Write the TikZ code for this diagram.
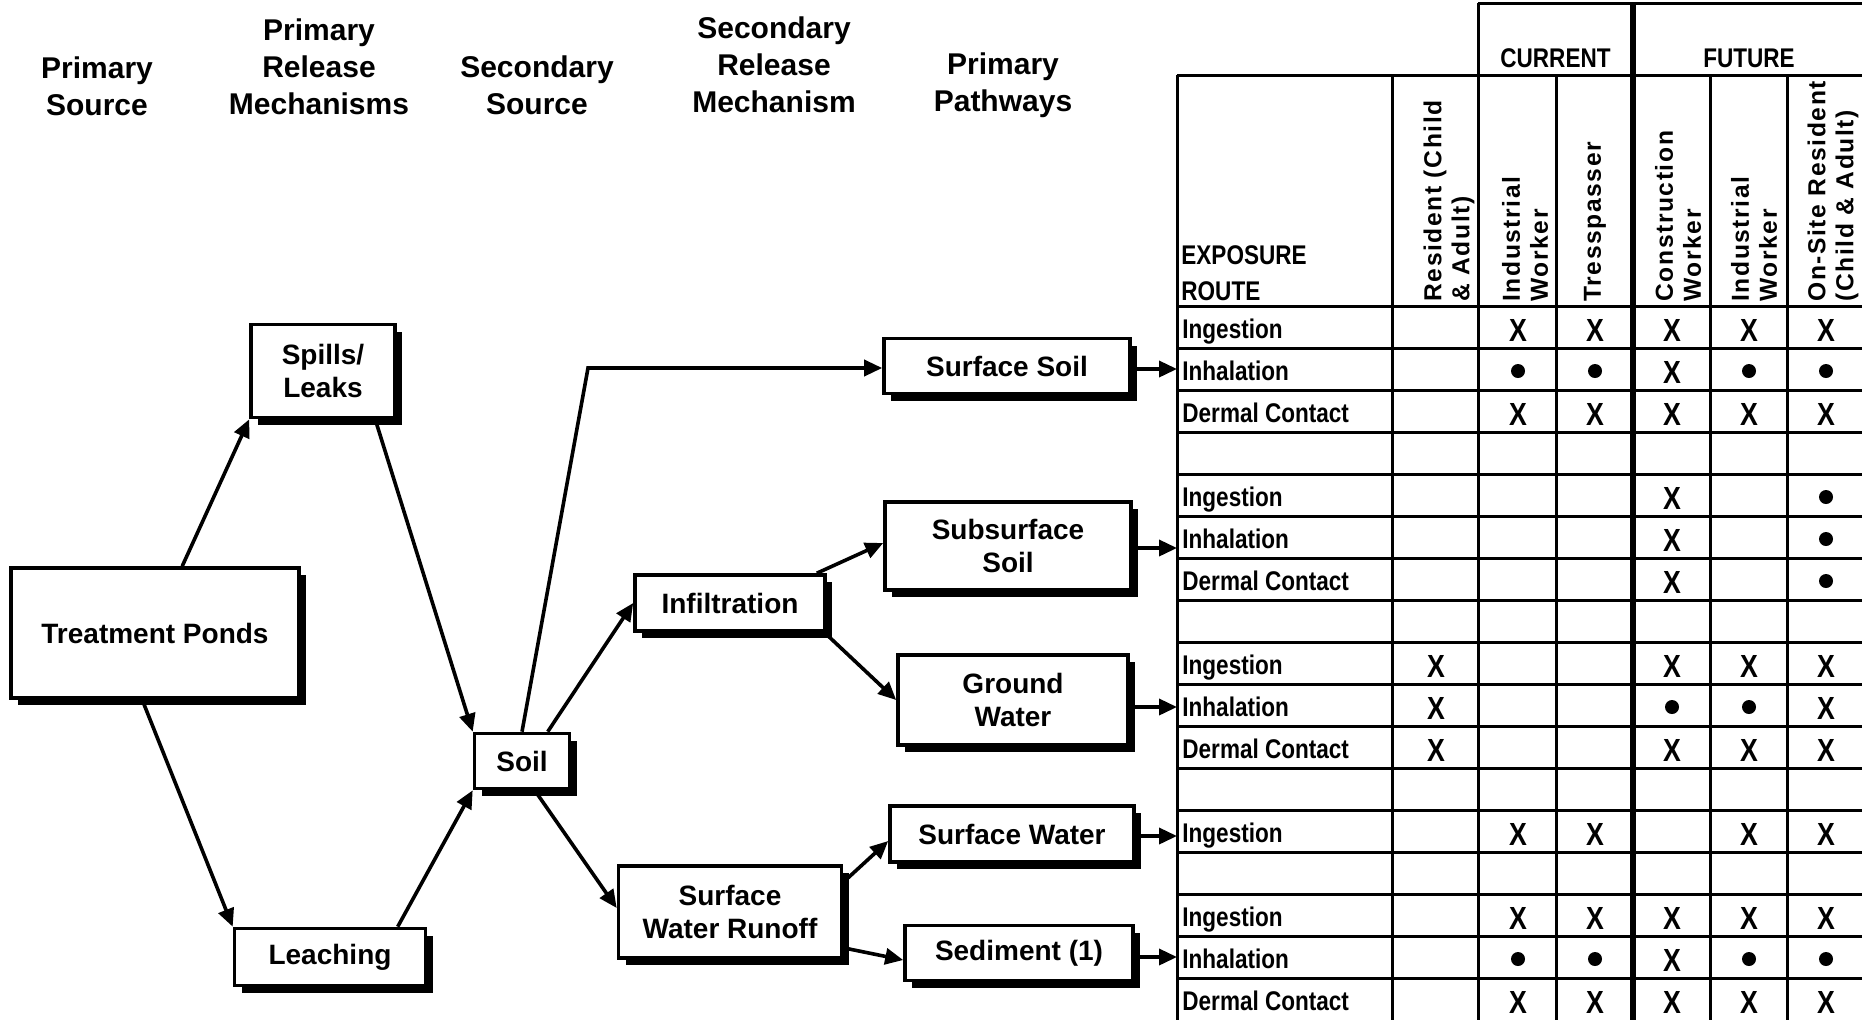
\documentclass[tikz,border=0pt]{standalone}
\usepackage{fontspec}
\setmainfont{Liberation Sans}
\newfontfamily\tabfont{Liberation Sans}[FakeStretch=0.835]
\newfontfamily\rotfont{Liberation Sans}[LetterSpace=6.5]
\usetikzlibrary{arrows.meta,shadows,calc}
\pgfdeclarelayer{bg}
\pgfsetlayers{bg,main}
\tikzset{
  box/.style={draw, line width=1.8pt, fill=white, align=center, inner sep=0pt,
    font=\fontsize{14}{16.5}\selectfont\bfseries,
    drop shadow={shadow xshift=3.5pt, shadow yshift=-3.5pt, fill=black, opacity=1}},
  hdr/.style={align=center, inner sep=0pt, font=\fontsize{15}{18.4}\selectfont\bfseries},
  arr/.style={line width=1.8pt, -{Triangle[length=9pt,width=8pt]}},
  grid/.style={line width=1.5pt},
  thickgrid/.style={line width=2.7pt},
  route/.style={inner sep=0pt, font=\tabfont\bfseries\fontsize{13.5}{18}\selectfont},
  hx/.style={inner sep=0pt, font=\tabfont\bfseries\fontsize{16}{16}\selectfont},
  rot/.style={rotate=90, anchor=west, align=left, inner sep=0pt, font=\rotfont\bfseries\fontsize{12.3}{14}\selectfont},
  dotmark/.style={circle, fill=black, inner sep=0pt, minimum size=7pt}
}
\begin{document}
\begin{tikzpicture}[x=0.5pt,y=-0.5pt]
\useasboundingbox (0,0) rectangle (1862,1019);
\clip (0,0) rectangle (1862,1019);

% column headers
\node[hdr] (h1) at (97,86) {Primary\\Source};
\node[hdr] (h2) at (319,67) {Primary\\Release\\Mechanisms};
\node[hdr] (h3) at (537,85) {Secondary\\Source};
\node[hdr] (h4) at (774,65) {Secondary\\Release\\Mechanism};
\node[hdr] (h5) at (1003,85) {Primary\\Pathways};

% boxes
\node[box, minimum width=144pt, minimum height=65pt] (ponds) at (155,633) {Treatment Ponds};
\node[box, minimum width=72pt, minimum height=46.5pt] (spills) at (323,371) {Spills/\\Leaks};
\node[box, minimum width=95.5pt, minimum height=28.5pt] (leach) at (330,957) {Leaching};
\node[box, minimum width=47.5pt, minimum height=27.5pt] (soil) at (522,761) {Soil};
\node[box, minimum width=95pt, minimum height=28pt] (infil) at (730,603) {Infiltration};
\node[box, minimum width=111.5pt, minimum height=46pt] (sswr) at (730,912) {Surface\\Water Runoff};
\node[box, minimum width=123pt, minimum height=27.5pt] (ssoil) at (1007,366) {Surface Soil};
\node[box, minimum width=123pt, minimum height=44pt] (subsoil) at (1008,546) {Subsurface\\Soil};
\node[box, minimum width=115pt, minimum height=45pt] (gw) at (1013,700) {Ground\\Water};
\node[box, minimum width=122pt, minimum height=28pt] (sw) at (1012,834) {Surface Water};
\node[box, minimum width=114pt, minimum height=27.5pt] (sed) at (1019,953) {Sediment (1)};

\coordinate (bend) at (588,368);
\coordinate (tl) at (1177,0);
\coordinate (a1) at ($(ssoil.east)+(0,3)$);
\coordinate (a2) at ($(subsoil.east)+(0,2)$);
\coordinate (a3) at ($(gw.east)+(0,7)$);
\coordinate (a4) at ($(sw.east)+(0,2)$);
\coordinate (a5) at ($(sed.east)+(0,4)$);

\begin{pgfonlayer}{bg}
\draw[arr] ($(ponds.north west)+(173,0)$) -- (spills.south west);
\draw[arr] ($(spills.south west)+(126,0)$) -- (soil.north west);
\draw[arr] ($(ponds.south west)+(133,0)$) -- (leach.north west);
\draw[arr] ($(leach.north west)+(165,0)$) -- (soil.south west);
\draw[arr] (soil.north) -- (bend) -- (bend -| ssoil.west);
\draw[arr] ($(soil.north west)+(75,0)$) -- (infil.west);
\draw[arr] ($(infil.north east)+(-10,0)$) -- ($(subsoil.west)+(0,-3)$);
\draw[arr] ($(infil.south east)+(-2,0)$) -- (gw.west);
\draw[arr] ($(soil.south west)+(62,0)$) -- ($(sswr.west)+(0,-4)$);
\draw[arr] ($(sswr.north east)+(0,18)$) -- ($(sw.west)+(0,7)$);
\draw[arr] ($(sswr.south east)+(0,-12)$) -- ($(sed.west)+(0,7)$);
\draw[arr] (a1) -- (a1 -| tl);
\draw[arr] (a2) -- (a2 -| tl);
\draw[arr] (a3) -- (a3 -| tl);
\draw[arr] (a4) -- (a4 -| tl);
\draw[arr] (a5) -- (a5 -| tl);
\end{pgfonlayer}

% table grid
\foreach \y in {306,348,...,978} \draw[grid] (1177,\y) -- (1870,\y);
\draw[grid] (1177,75) -- (1870,75);
\draw[grid] (1478,3) -- (1870,3);
\draw[grid] (1478,3) -- (1478,1030);
\draw[thickgrid] (1633,3) -- (1633,1030);
\foreach \x in {1177,1392,1556,1710,1787} \draw[grid] (\x,75) -- (\x,1030);

% table headers
\node[route] (cur) at (1555.5,58) {CURRENT};
\node[route] (fut) at (1749,58) {FUTURE};
\node[route, align=left, anchor=west] (exr) at (1181,273) {EXPOSURE\\ROUTE};
\node[rot] (lres) at (1449,302) {Resident (Child\\\& Adult)};
\node[rot] (lind1) at (1525,302) {Industrial\\Worker};
\node[rot] (ltres) at (1595,302) {Tresspasser};
\node[rot] (lcon) at (1678,302) {Construction\\Worker};
\node[rot] (lind2) at (1754,302) {Industrial\\Worker};
\node[rot] (lons) at (1833,302) {On-Site Resident\\(Child \& Adult)};

% exposure routes
\foreach \r/\t in {1/Ingestion,2/Inhalation,3/Dermal Contact,5/Ingestion,6/Inhalation,7/Dermal Contact,9/Ingestion,10/Inhalation,11/Dermal Contact,13/Ingestion,15/Ingestion,16/Inhalation,17/Dermal Contact}
  \node[route, anchor=base west] (r\r) at (1182,{338+42*(\r-1)}) {\t};

% X marks
\foreach \r/\c in {1/2,1/3,1/4,1/5,1/6,2/4,3/2,3/3,3/4,3/5,3/6,5/4,6/4,7/4,9/1,9/4,9/5,9/6,10/1,10/6,11/1,11/4,11/5,11/6,13/2,13/3,13/5,13/6,15/2,15/3,15/4,15/5,15/6,16/4,17/2,17/3,17/4,17/5,17/6}{
  \pgfmathsetmacro\xx{{1436,1518,1595,1672,1749,1826}[\c-1]}
  \node[hx] (x-\r-\c) at (\xx,{330+42*(\r-1)}) {X};
}
% dots
\foreach \r/\c in {2/2,2/3,2/5,2/6,5/6,6/6,7/6,10/4,10/5,16/2,16/3,16/5,16/6}{
  \pgfmathsetmacro\xx{{1436,1518,1595,1672,1749,1826}[\c-1]}
  \node[dotmark] (d-\r-\c) at (\xx,{329+42*(\r-1)}) {};
}
\end{tikzpicture}
\end{document}
